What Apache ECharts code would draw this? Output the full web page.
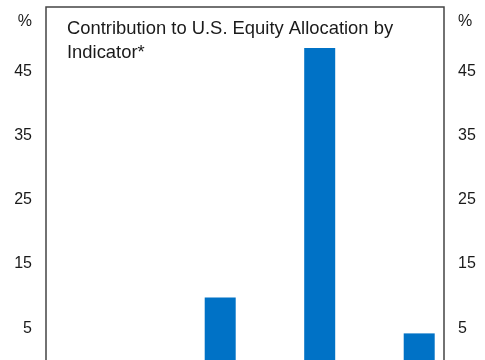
<!DOCTYPE html>
<html>
<head>
<meta charset="utf-8">
<script src="https://cdn.jsdelivr.net/npm/echarts@6/dist/echarts.min.js"></script>
<style>
html,body{margin:0;padding:0;background:#fff;}
#c{width:485px;height:360px;}
</style>
</head>
<body>
<div id="c"></div>
<script>
// Categories (axis labels are cropped out of the reference)
const categories = ['Indicator 1', 'Indicator 2', 'Indicator 3', 'Indicator 4'];
// Left-slot series: not visible in the cropped picture
const leftSlotValues = [null, null, null, null];
// Visible contribution bars (%)
const contributionValues = [0, 9.8, 48.6, 4.2];
const yMin = -5, yMax = 55, yInterval = 10;
const titleText = 'Contribution to U.S. Equity Allocation by\nIndicator*';
const unitLabel = '%';

const font = 'Liberation Sans, Arial, sans-serif';
const chart = echarts.init(document.getElementById('c'), null, {renderer: 'canvas'});

function yAxisCfg(pos) {
  return {
    type: 'value',
    position: pos,
    min: yMin, max: yMax, interval: yInterval,
    name: unitLabel,
    nameLocation: 'end',
    nameGap: -15,
    nameTextStyle: {
      fontFamily: font, fontSize: 16, color: '#1a1a1a',
      align: pos === 'left' ? 'right' : 'left',
      verticalAlign: 'middle',
      padding: pos === 'left' ? [0, 14, 0, 0] : [0, 0, 0, 14]
    },
    axisLine: {show: false},
    axisTick: {show: false},
    splitLine: {show: false},
    axisLabel: {
      fontFamily: font, fontSize: 16, color: '#1a1a1a', margin: 14,
      showMaxLabel: false
    }
  };
}

chart.setOption({
  animation: false,
  backgroundColor: '#fff',
  title: {
    text: titleText,
    left: 67, top: 17, padding: 0,
    textStyle: {fontFamily: font, fontSize: 18.4, fontWeight: 'normal', color: '#1a1a1a', lineHeight: 24}
  },
  grid: {
    left: 46, right: 41, top: 7, bottom: -32.5,
    outerBoundsMode: 'none',
    show: true, borderColor: '#444', borderWidth: 1.5, backgroundColor: 'transparent',
    containLabel: false
  },
  xAxis: {
    type: 'category',
    data: categories,
    axisLine: {show: false},
    axisTick: {show: false},
    axisLabel: {show: false},
    splitLine: {show: false}
  },
  yAxis: [yAxisCfg('left'), yAxisCfg('right')],
  series: [
    {
      name: 'left slot', type: 'bar', data: leftSlotValues,
      barWidth: 31, barGap: '61%', itemStyle: {color: '#0072C6'}
    },
    {
      name: 'Contribution', type: 'bar', data: contributionValues,
      barWidth: 31, barGap: '61%', itemStyle: {color: '#0072C6'}
    }
  ]
});
</script>
</body>
</html>
